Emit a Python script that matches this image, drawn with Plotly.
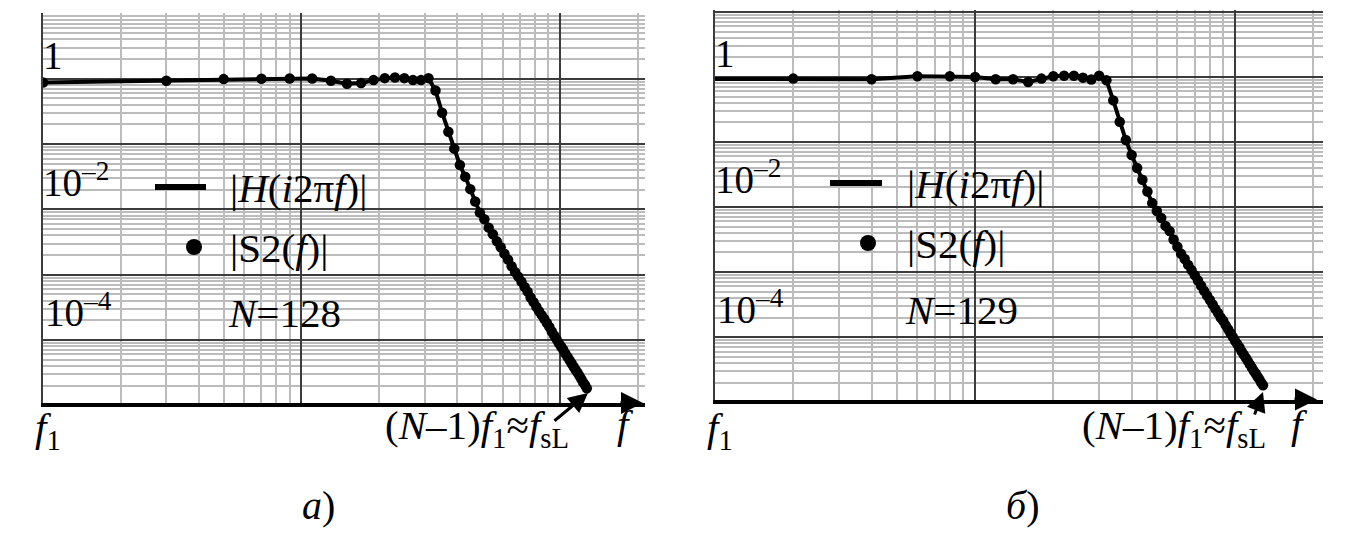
import plotly.graph_objects as go

# ---------------- data ----------------
# panel a): N = 128, |S2(f)| at odd harmonics of f1 (log10 of magnitude)
freq_a = [1, 3, 5, 7, 9, 11, 13, 15, 17, 19, 21, 23, 25, 27, 29, 31,
          33, 35, 37, 39, 41, 43, 45, 47,
          49, 51, 53, 55, 57, 59, 61, 63, 65, 67, 69, 71, 73, 75, 77, 79,
          81, 83, 85, 87, 89, 91, 93, 95, 97, 99, 101, 103, 105, 107, 109,
          111, 113, 115, 117, 119, 121, 123, 125, 127]
s2_log_a = [-0.056, -0.03, -0.005, 0.0, 0.005, 0.005, -0.03, -0.076, -0.066, -0.02,
            0.01, 0.02, 0.01, -0.02, -0.02, 0.01,
            -0.18, -0.52, -0.81, -1.07, -1.32, -1.50, -1.69, -1.88,
            -2.05, -2.15, -2.28, -2.38, -2.49, -2.58, -2.68, -2.77, -2.87, -2.96,
            -3.03, -3.11, -3.19, -3.26, -3.35, -3.42, -3.49, -3.56, -3.62, -3.68,
            -3.74, -3.80, -3.87, -3.93, -3.99, -4.05, -4.10, -4.15, -4.21, -4.26,
            -4.31, -4.36, -4.41, -4.46, -4.50, -4.55, -4.60, -4.65, -4.69, -4.74]
h_freq_a = freq_a
h_log_a = s2_log_a

# panel б): N = 129, |S2(f)| at even harmonics of f1 (log10 of magnitude)
freq_b = [2, 4, 6, 8, 10, 12, 14, 16, 18, 20, 22, 24, 26, 28, 30,
          32, 34, 36, 38, 40, 42, 44, 46, 48,
          50, 52, 54, 56, 58, 60, 62, 64, 66, 68, 70, 72, 74, 76, 78, 80,
          82, 84, 86, 88, 90, 92, 94, 96, 98, 100, 102, 104, 106, 108, 110,
          112, 114, 116, 118, 120, 122, 124, 126, 128]
s2_log_b = [-0.025, -0.035, 0.01, 0.01, 0.0, -0.035, -0.035, -0.077, -0.025, 0.01,
            0.02, 0.02, -0.01, -0.04, 0.02,
            -0.05, -0.36, -0.69, -0.97, -1.20, -1.40, -1.58, -1.76, -1.94,
            -2.06, -2.17, -2.29, -2.37, -2.50, -2.61, -2.72, -2.80, -2.89, -2.97,
            -3.05, -3.13, -3.21, -3.29, -3.36, -3.43, -3.50, -3.57, -3.63, -3.70,
            -3.75, -3.82, -3.88, -3.94, -4.00, -4.06, -4.11, -4.16, -4.22, -4.27,
            -4.32, -4.37, -4.42, -4.47, -4.52, -4.56, -4.61, -4.65, -4.70, -4.74]
h_freq_b = [1] + freq_b
h_log_b = [-0.03] + s2_log_b

n_labels = ["128", "129"]
panel_letters = ["а", "б"]

# ---------------- figure ----------------
W, H = 1347, 533
SERIF = "Liberation Serif, Times New Roman, DejaVu Serif, serif"
MAJOR = "#3c3c3c"
MINOR = "#bcbcbc"


def px(x):
    return x / W


def py(y):
    return 1 - y / H


minor_x = [k * 10 ** n for n in range(0, 3) for k in range(2, 10)]
minor_y = [k * 10.0 ** n for n in range(-5, 1) for k in range(2, 10)]

fig = go.Figure()

panels = [
    dict(fx=freq_a, fy=s2_log_a, hx=h_freq_a, hy=h_log_a, xa="x", ya="y"),
    dict(fx=freq_b, fy=s2_log_b, hx=h_freq_b, hy=h_log_b, xa="x2", ya="y2"),
]
for p in panels:
    fig.add_trace(go.Scatter(x=p["hx"], y=[10 ** v for v in p["hy"]], mode="lines",
                             line=dict(color="black", width=4),
                             xaxis=p["xa"], yaxis=p["ya"], showlegend=False,
                             hoverinfo="skip"))
    fig.add_trace(go.Scatter(x=p["fx"], y=[10 ** v for v in p["fy"]], mode="markers",
                             marker=dict(color="black", size=10.5),
                             xaxis=p["xa"], yaxis=p["ya"], showlegend=False))


def xaxis(dom, rng, anchor):
    return dict(type="log", domain=dom, range=rng, anchor=anchor,
                showticklabels=False, ticks="", tickmode="array", tickvals=[1, 10, 100],
                showgrid=True, gridcolor=MAJOR, gridwidth=1.6, zeroline=False,
                showline=True, linecolor="black", linewidth=4,
                minor=dict(tickmode="array", tickvals=minor_x, showgrid=True,
                           gridcolor=MINOR, gridwidth=1.5, ticks=""))


def yaxis(dom, rng, anchor):
    return dict(type="log", domain=dom, range=rng, anchor=anchor,
                showticklabels=False, ticks="", tickmode="array",
                tickvals=[1e-5, 1e-4, 1e-3, 1e-2, 1e-1, 1, 10],
                showgrid=True, gridcolor=MAJOR, gridwidth=1.6, zeroline=False,
                showline=True, linecolor=MAJOR, linewidth=1.6,
                minor=dict(tickmode="array", tickvals=minor_y, showgrid=True,
                           gridcolor=MINOR, gridwidth=1.5, ticks=""))


fig.update_layout(
    width=W, height=H, autosize=False,
    margin=dict(l=0, r=0, t=0, b=0),
    paper_bgcolor="white", plot_bgcolor="white",
    showlegend=False,
    xaxis=xaxis([px(43), px(645)], [0, 2.329], "y"),
    yaxis=yaxis([py(403.3), py(13.3)], [-4.97, 1.003], "x"),
    xaxis2=xaxis([px(715), px(1323)], [0, 2.338], "y2"),
    yaxis2=yaxis([py(399.5), py(10)], [-4.96, 1.03], "x2"),
)


def label(text, x, y, xanchor="left", size=41):
    fig.add_annotation(text=text, x=px(x), y=py(y), xref="paper", yref="paper",
                       xanchor=xanchor, yanchor="middle", showarrow=False,
                       font=dict(family=SERIF, size=size, color="black"))


def arrow(tip, tail, width, size):
    fig.add_annotation(text="", x=px(tip[0]), y=py(tip[1]), xref="paper", yref="paper",
                       ax=tail[0] - tip[0], ay=tail[1] - tip[1], showarrow=True,
                       arrowhead=2, arrowwidth=width, arrowsize=size, arrowcolor="black")


layouts = [
    dict(x0=0, dy=0, line=(155, 206, 187), dot=(194, 247), txt=228,
         fsl=383, fx=615, fend=(643, 403), ptip=(588, 393), ptail=(553, 422), letter=318),
    dict(x0=672, dy=-3, line=(830, 882, 183), dot=(868, 243), txt=905,
         fsl=1080, fx=1289, fend=(1317, 399.5), ptip=(1263, 392), ptail=(1254, 416), letter=1022),
]

for i, L in enumerate(layouts):
    x0, dy = L["x0"], L["dy"]
    label("1", x0 + 41, 56 + dy, size=39)
    label("10<sup>–2</sup>", x0 + 41, 180 + dy, size=39)
    label("10<sup>–4</sup>", x0 + 43, 310 + dy, size=39)
    lx0, lx1, ly = L["line"]
    fig.add_shape(type="line", xref="paper", yref="paper",
                  x0=px(lx0), x1=px(lx1), y0=py(ly), y1=py(ly),
                  line=dict(color="black", width=6))
    cx, cy = L["dot"]
    fig.add_shape(type="circle", xref="paper", yref="paper",
                  x0=px(cx - 8), x1=px(cx + 8), y0=py(cy + 8), y1=py(cy - 8),
                  fillcolor="black", line=dict(color="black", width=0))
    label("|<i>H</i>(<i>i</i>2π<i>f</i>)|", L["txt"], ly + 1)
    label("|S2(<i>f</i>)|", L["txt"], cy + 1)
    label("<i>N</i>=" + n_labels[i], L["txt"] - 2, 313 + dy)
    label("<i>f</i><sub>1</sub>", x0 + 33, 430)
    label("(<i>N</i>–1)<i>f</i><sub>1</sub>≈<i>f</i><sub>sL</sub>", L["fsl"], 428)
    label("<i>f</i>", L["fx"], 424)
    label("<i>" + panel_letters[i] + "</i>)", L["letter"], 505, xanchor="center", size=40)
    arrow(L["fend"], (L["fend"][0] - 24, L["fend"][1]), 4, 1.1)
    arrow(L["ptip"], L["ptail"], 3, 1.3)

fig.write_html("out.html", config={"displayModeBar": False},
               post_script="document.body.style.margin='0';document.body.style.overflow='hidden';")
